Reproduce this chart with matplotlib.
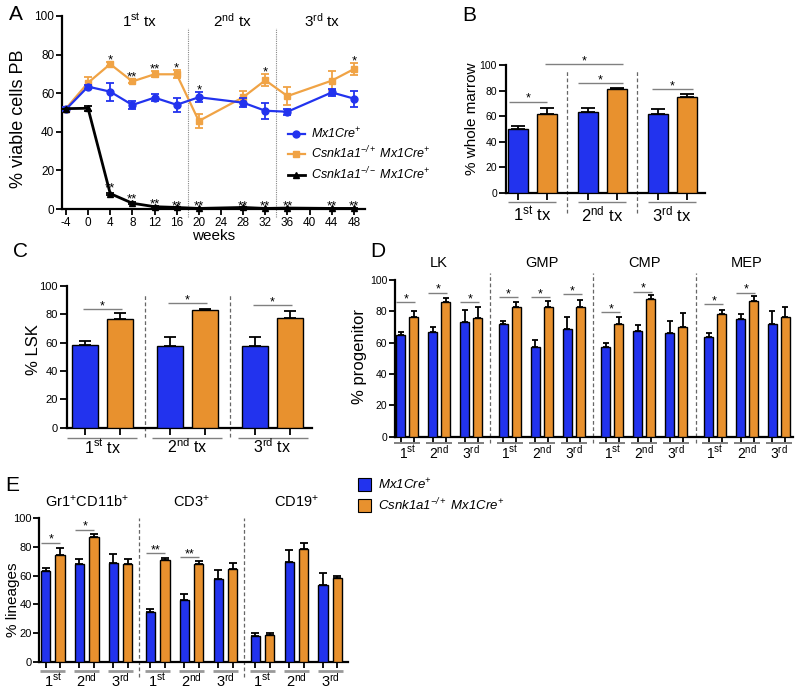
import numpy as np
import matplotlib
matplotlib.use('Agg')
import matplotlib.pyplot as plt
from matplotlib.patches import Patch
from matplotlib.lines import Line2D

plt.rcParams['font.family'] = ['Liberation Sans', 'DejaVu Sans']
plt.rcParams['mathtext.fontset'] = 'custom'
plt.rcParams['mathtext.rm'] = 'Liberation Sans'
plt.rcParams['mathtext.it'] = 'Liberation Sans:italic'
plt.rcParams['mathtext.bf'] = 'Liberation Sans:bold'
plt.rcParams['mathtext.default'] = 'regular'

BLUE = '#2233EE'
ORANGE = '#E8912E'
ORANGE_LINE = '#F0A345'
GRAY = '#808080'

# ---------------- data ----------------
# Panel A: % viable cells in peripheral blood
weeks = [-4, 0, 4, 8, 12, 16, 20, 28, 32, 36, 44, 48]
week_ticks = [-4, 0, 4, 8, 12, 16, 20, 24, 28, 32, 36, 40, 44, 48]
ctrl_pb = [51.6, 63.4, 60.8, 53.9, 57.7, 54.0, 57.9, 55.1, 50.9, 50.4, 60.4, 57.2]
ctrl_pb_err = [1.0, 1.0, 4.7, 2.0, 1.8, 3.6, 2.7, 2.5, 4.2, 1.5, 2.0, 4.1]
het_pb = [52.0, 65.4, 75.1, 66.1, 69.8, 69.8, 45.6, 57.9, 66.7, 58.5, 66.5, 72.5]
het_pb_err = [1.0, 3.0, 1.0, 1.0, 1.5, 2.0, 3.7, 3.0, 3.0, 4.7, 5.0, 3.0]
ko_pb = [52.0, 52.2, 8.0, 3.0, 1.2, 0.8, 0.3, 0.8, 0.3, 0.5, 0.3, 0.3]
ko_pb_err = [0.0, 1.4, 0.5, 0.5, 0.3, 0.3, 0.2, 0.2, 0.2, 0.2, 0.2, 0.2]
het_star_weeks = [4, 8, 12, 16, 32, 48]
het_star_labels = ['*', '**', '**', '*', '*', '*']
ctrl_star_weeks = [20]
ctrl_star_labels = ['*']
ko_star_weeks = [4, 8, 12, 16, 20, 28, 32, 36, 44, 48]
ko_star_y = [13.3, 7.8, 5.2, 3.8, 3.8, 3.8, 3.8, 3.8, 3.8, 3.8]
tx_labels = [r'1$^{\mathrm{st}}$ tx', r'2$^{\mathrm{nd}}$ tx', r'3$^{\mathrm{rd}}$ tx']
tx_boundaries = [18, 34]

legend_labels = [r'Mx1Cre$^{+}$',
                 r'Csnk1a1$^{-/+}$ Mx1Cre$^{+}$',
                 r'Csnk1a1$^{-/-}$ Mx1Cre$^{+}$']

# Panel B: % whole marrow
wm_ctrl = [49.6, 63.2, 61.4]
wm_ctrl_err = [2.6, 3.4, 4.4]
wm_het = [61.4, 80.9, 75.2]
wm_het_err = [5.2, 1.1, 1.8]

# Panel C: % LSK
lsk_ctrl = [58.2, 57.7, 57.3]
lsk_ctrl_err = [3.1, 6.3, 6.7]
lsk_het = [76.3, 83.1, 77.0]
lsk_het_err = [4.2, 0.5, 5.0]

# Panel D: % progenitor
prog_cats = ['LK', 'GMP', 'CMP', 'MEP']
prog_ctrl = [[64.7, 66.6, 73.0], [71.9, 57.0, 68.7], [57.4, 67.2, 66.2], [63.8, 74.9, 71.7]]
prog_ctrl_err = [[2.1, 3.6, 7.9], [2.1, 4.5, 7.7], [2.6, 4.3, 7.6], [2.2, 3.6, 8.5]]
prog_het = [[76.2, 85.8, 75.7], [82.6, 82.6, 82.6], [71.7, 87.9, 69.8], [78.1, 86.6, 76.2]]
prog_het_err = [[3.8, 2.9, 6.9], [3.2, 4.0, 4.8], [4.9, 2.7, 8.9], [2.9, 3.0, 6.6]]
# significance: (category, pair, bracket height, label)
prog_sig = [(0, 0, 85.8, '*'), (0, 1, 91.9, '*'), (0, 2, 85.9, '*'),
            (1, 0, 89.0, '*'), (1, 1, 89.0, '*'), (1, 2, 91.0, '*'),
            (2, 0, 79.4, '*'), (2, 1, 92.5, '*'),
            (3, 0, 84.7, '*'), (3, 1, 91.9, '*')]

# Panel E: % lineages
lin_cats = [r'Gr1$^{+}$CD11b$^{+}$', r'CD3$^{+}$', r'CD19$^{+}$']
lin_ctrl = [[63.3, 68.0, 68.6], [34.4, 43.0, 57.7], [17.9, 69.5, 53.7]]
lin_ctrl_err = [[2.3, 3.6, 6.7], [2.1, 4.4, 6.3], [2.3, 8.5, 8.3]]
lin_het = [[74.4, 87.2, 68.0], [70.9, 68.1, 64.7], [18.6, 78.4, 58.4]]
lin_het_err = [[4.6, 1.6, 3.4], [1.4, 2.4, 4.3], [1.4, 4.4, 1.6]]
lin_sig = [(0, 0, 83.0, '*'), (0, 1, 91.9, '*'), (1, 0, 75.6, '**'), (1, 1, 72.8, '**')]

short_tx = [r'1$^{\mathrm{st}}$', r'2$^{\mathrm{nd}}$', r'3$^{\mathrm{rd}}$']

# ---------------- figure ----------------
W, H = 800, 690
fig = plt.figure(figsize=(W / 100, H / 100), dpi=100)


def add_ax(l, t, r, b):
    return fig.add_axes([l / W, 1 - b / H, (r - l) / W, (b - t) / H])


def style(ax, fs, ticklen=4):
    for s in ['top', 'right']:
        ax.spines[s].set_visible(False)
    for s in ['left', 'bottom']:
        ax.spines[s].set_linewidth(1.6)
    ax.tick_params(direction='out', length=ticklen, width=1.3, labelsize=fs, pad=1.5)
    ax.set_ylim(0, 100)
    ax.set_yticks(range(0, 101, 20))


def star(ax, x, y, s, fs=9):
    ax.annotate(s, (x, y), xytext=(0, 0), textcoords='offset points', ha='center',
                va='baseline', fontsize=fs, annotation_clip=False)


def star_center(ax, x, yc, s, fs=9):
    ax.annotate(s, (x, yc), xytext=(0, -0.62 * fs), textcoords='offset points',
                ha='center', va='baseline', fontsize=fs, annotation_clip=False)


# ---------- Panel A ----------
axA = add_ax(62, 16, 365, 209)
style(axA, 8.5)
axA.set_xlim(-4.7, 50)
axA.set_xticks(week_ticks)
axA.set_xticklabels([str(w) for w in week_ticks])
for xb in tx_boundaries:
    axA.plot([xb, xb], [-4, 94], color='#888888', lw=0.8, ls=(0, (1, 1)), clip_on=False, zorder=1)
axA.errorbar(weeks, ctrl_pb, yerr=ctrl_pb_err, color=BLUE, lw=1.6, marker='o', ms=5,
             capsize=3, elinewidth=1.3, capthick=1.3, clip_on=False, zorder=4)
axA.errorbar(weeks, het_pb, yerr=het_pb_err, color=ORANGE_LINE, lw=1.6, marker='s', ms=5,
             capsize=3, elinewidth=1.3, capthick=1.3, clip_on=False, zorder=3)
axA.errorbar(weeks, ko_pb, yerr=ko_pb_err, color='black', lw=2.0, marker='^', ms=5,
             capsize=3, elinewidth=1.3, capthick=1.3, clip_on=False, zorder=5)
for w, s in zip(het_star_weeks, het_star_labels):
    i = weeks.index(w)
    star_center(axA, w, het_pb[i] + het_pb_err[i] + 3.5, s, 9.5)
for w, s in zip(ctrl_star_weeks, ctrl_star_labels):
    i = weeks.index(w)
    star_center(axA, w, ctrl_pb[i] + ctrl_pb_err[i] + 3.5, s, 9.5)
for w, yv in zip(ko_star_weeks, ko_star_y):
    star_center(axA, w, yv, '**', 9.5)
for xc, lab in zip([9.4, 26.0, 42.2], tx_labels):
    axA.text(xc, 97.5, lab, ha='center', va='center', fontsize=11)
axA.text(0.5, -0.14, 'weeks', transform=axA.transAxes, ha='center', va='center', fontsize=11)
axA.text(-0.145, 0.47, '% viable cells PB', transform=axA.transAxes, rotation=90,
         ha='center', va='center', fontsize=13)
handles = [Line2D([], [], color=BLUE, marker='o', ms=5, lw=1.6),
           Line2D([], [], color=ORANGE_LINE, marker='s', ms=5, lw=1.6),
           Line2D([], [], color='black', marker='^', ms=5, lw=2.0)]
axA.legend(handles, legend_labels, loc='upper left', bbox_to_anchor=(0.745, 0.43),
           frameon=False, prop={'size': 9, 'style': 'italic'}, handlelength=1.4,
           handletextpad=0.45, labelspacing=0.32, borderaxespad=0, borderpad=0)


# ---------- helper for bar panels ----------
def bar_panel(ax, xb, ctrl, cerr, het, herr, width, capsize):
    xb = np.asarray(xb, dtype=float)
    xo = xb + 1
    ax.errorbar(xb, ctrl, yerr=[np.zeros(len(ctrl)), cerr], fmt='none', ecolor='black',
                elinewidth=1.3, capsize=capsize, capthick=1.3, zorder=2)
    ax.errorbar(xo, het, yerr=[np.zeros(len(het)), herr], fmt='none', ecolor='black',
                elinewidth=1.3, capsize=capsize, capthick=1.3, zorder=2)
    ax.bar(xb, ctrl, width, color=BLUE, edgecolor='black', linewidth=1.0, zorder=3)
    ax.bar(xo, het, width, color=ORANGE, edgecolor='black', linewidth=1.0, zorder=3)
    ax.set_xticks(np.sort(np.concatenate([xb, xo])))
    ax.set_xticklabels([])


def vline(ax, x, y0, y1):
    ax.plot([x, x], [y0, y1], color='#666666', lw=0.9, ls=(0, (3, 2)), clip_on=False, zorder=1)


def hline(ax, x0, x1, y, color=GRAY, lw=1.0):
    ax.plot([x0, x1], [y, y], color=color, lw=lw, clip_on=False, solid_capstyle='butt')


# ---------- Panel B ----------
axB = add_ax(506, 65, 705, 192.7)
style(axB, 7.5, 5)
stepB = 2.41
xB = [p * stepB for p in range(3)]
bar_panel(axB, xB, wm_ctrl, wm_ctrl_err, wm_het, wm_het_err, 0.69, 5)
axB.set_xlim(-0.41, 6.45)
for p in range(2):
    vline(axB, xB[p] + 1 + (stepB - 1) / 2, -16, 96)
for p in range(3):
    c = xB[p] + 0.5
    hline(axB, c - 0.83, c + 0.83, -7.3)
    axB.text(c, -17, tx_labels[p], ha='center', va='center', fontsize=12)
# significance brackets
hline(axB, xB[0] - 0.3, xB[0] + 1.0, 71.3)
star(axB, xB[0] + 0.35, 71.3, '*')
hline(axB, xB[0] + 0.95, xB[1] + 1.2, 100.5)
star(axB, (xB[0] + 0.95 + xB[1] + 1.2) / 2, 100.5, '*')
hline(axB, xB[1] - 0.34, xB[1] + 1.2, 85.6)
star(axB, (xB[1] - 0.34 + xB[1] + 1.2) / 2, 85.6, '*')
hline(axB, xB[2] - 0.2, xB[2] + 1.2, 81.0)
star(axB, xB[2] + 0.5, 81.0, '*')
axB.text(-0.172, 0.58, '% whole marrow', transform=axB.transAxes, rotation=90,
         ha='center', va='center', fontsize=11)

# ---------- Panel C ----------
axC = add_ax(66.7, 285.7, 311.7, 427.7)
style(axC, 8, 5)
stepC = 2.43
xC = [p * stepC for p in range(3)]
bar_panel(axC, xC, lsk_ctrl, lsk_ctrl_err, lsk_het, lsk_het_err, 0.72, 4.5)
axC.set_xlim(-0.52, 6.48)
for p in range(2):
    vline(axC, xC[p] + 1 + (stepC - 1) / 2, -6.5, 93.4)
for p in range(3):
    c = xC[p] + 0.5
    hline(axC, c - 1.0, c + 1.0, -7.0)
    axC.text(c, -13.6, tx_labels[p], ha='center', va='center', fontsize=11.5)
for p, h in zip(range(3), [83.6, 87.6, 86.4]):
    hline(axC, xC[p] - 0.05, xC[p] + 1.05, h)
    star(axC, xC[p] + 0.5, h, '*')
axC.text(-0.136, 0.55, '% LSK', transform=axC.transAxes, rotation=90,
         ha='center', va='center', fontsize=12)

# ---------- Panel D ----------
axD = add_ax(395, 280, 793, 436.7)
style(axD, 7.5, 4)
pairD, catD = 2.46, 7.9
xD = [c * catD + p * pairD for c in range(4) for p in range(3)]
bar_panel(axD, xD, np.ravel(prog_ctrl), np.ravel(prog_ctrl_err), np.ravel(prog_het),
          np.ravel(prog_het_err), 0.7, 2.5)
axD.set_xlim(-0.44, 30.2)
for c in range(3):
    vline(axD, c * catD + 2 * pairD + 1 + (catD - 2 * pairD - 1) / 2, -4, 104.5)
for c in range(4):
    axD.text(c * catD + pairD + 0.5, 110.6, prog_cats[c], ha='center', va='center', fontsize=10.5)
    for p in range(3):
        base = c * catD + p * pairD + 0.5
        hline(axD, base - 1.0, base + 1.0, -4.3, lw=1.4)
        axD.text(base, -10.2, short_tx[p], ha='center', va='center', fontsize=10)
for c, p, h, s in prog_sig:
    x0 = c * catD + p * pairD
    hline(axD, x0 - 0.35, x0 + 1.1, h)
    star(axD, x0 + 0.4, h, s)
axD.text(-0.088, 0.51, '% progenitor', transform=axD.transAxes, rotation=90,
         ha='center', va='center', fontsize=12)

# ---------- Panel E ----------
axE = add_ax(39.3, 518.3, 348, 661.7)
style(axE, 8, 4)
pairE, catE = 2.39, 7.39
xE = [c * catE + p * pairE for c in range(3) for p in range(3)]
bar_panel(axE, xE, np.ravel(lin_ctrl), np.ravel(lin_ctrl_err), np.ravel(lin_het),
          np.ravel(lin_het_err), 0.68, 2.6)
axE.set_xlim(-0.44, 21.3)
for c in range(2):
    vline(axE, c * catE + 2 * pairE + 1 + (catE - 2 * pairE - 1) / 2, -10.5, 100)
for c in range(3):
    axE.text(c * catE + pairE + 0.5, 111.6, lin_cats[c], ha='center', va='center', fontsize=10.5)
    for p in range(3):
        base = c * catE + p * pairE + 0.5
        hline(axE, base - 0.88, base + 0.88, -6.5, color='#999999', lw=2.0)
        axE.text(base, -13.2, short_tx[p], ha='center', va='center', fontsize=10.5)
for c, p, h, s in lin_sig:
    x0 = c * catE + p * pairE
    hline(axE, x0 - 0.3, x0 + 1.05, h)
    star(axE, x0 + 0.38, h, s)
axE.text(-0.084, 0.43, '% lineages', transform=axE.transAxes, rotation=90,
         ha='center', va='center', fontsize=11)

fig.legend([Patch(facecolor=BLUE, edgecolor='black', linewidth=0.8),
            Patch(facecolor=ORANGE, edgecolor='black', linewidth=0.8)],
           legend_labels[:2], loc='upper left', bbox_to_anchor=(358 / W, 1 - 477 / H),
           frameon=False, prop={'size': 9.5, 'style': 'italic'}, handlelength=1.0,
           handleheight=1.1, handletextpad=0.5, labelspacing=0.35, borderpad=0,
           borderaxespad=0)

# ---------- panel letters ----------
for lab, (px, py) in zip('ABCDE', [(9, 20), (462, 21), (13, 257), (370, 257), (5, 491)]):
    fig.text(px / W, 1 - py / H, lab, fontsize=15, va='baseline', ha='left')

fig.savefig('out.png', dpi=100)
